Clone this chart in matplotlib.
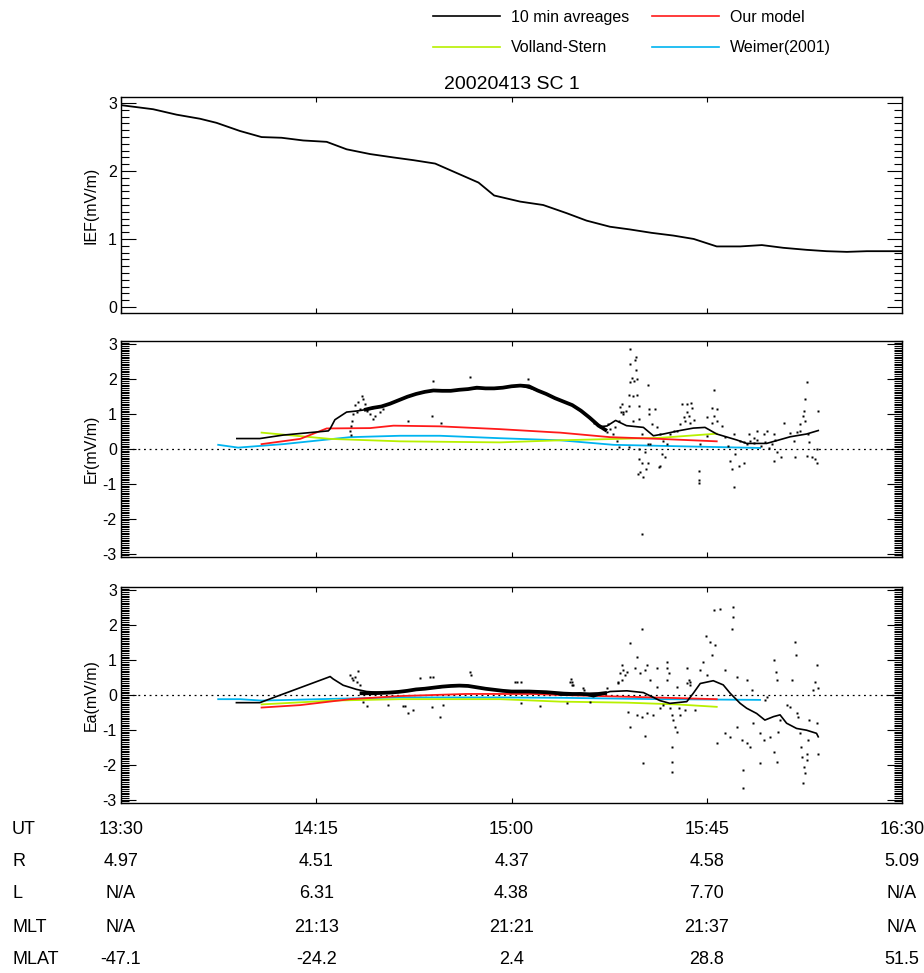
"""Electric field comparison plot for 20020413 SC 1 (IEF, Er, Ea panels)."""

import matplotlib
matplotlib.use("Agg")
import matplotlib.pyplot as plt
from matplotlib.lines import Line2D
from matplotlib.ticker import MultipleLocator, NullFormatter
from matplotlib.transforms import blended_transform_factory
import numpy as np

plt.rcParams["font.family"] = ["Liberation Sans", "DejaVu Sans"]
plt.rcParams["axes.unicode_minus"] = False

# ---- data (time in minutes after 13:30 UT) ----
ief_t = [0, 7.4, 12.8, 18.2, 22, 27.4, 32.4, 37, 42, 47.4, 52, 57.4, 62.8, 67.4,
         72.4, 77.4, 82.4, 86, 92, 97.3, 102.7, 107.3, 112.7, 117.3, 122.3, 127.3,
         132, 137.3, 142.7, 147.7, 152.6, 158, 162.6, 167.3, 171.9, 180]
ief_v = [2.97, 2.91, 2.83, 2.77, 2.71, 2.59, 2.50, 2.49, 2.45, 2.43, 2.32, 2.25, 2.20,
         2.16, 2.11, 1.97, 1.83, 1.64, 1.55, 1.50, 1.38, 1.27, 1.18, 1.14, 1.09, 1.05,
         1.00, 0.89, 0.89, 0.91, 0.87, 0.84, 0.82, 0.81, 0.82, 0.82]

# Er: 10 min averages
er_avg_t = [26.7, 32, 37.4, 47.8, 48.2, 49.3, 52, 54.3, 58, 61, 64, 68, 72, 76, 80, 84,
            88, 92, 96, 100, 104, 108, 110, 112, 114, 116.5, 120.4, 122.7, 125, 128.8,
            131.9, 134.6, 137.3, 141.9, 144.2, 148.8, 151.1, 154.2, 158, 160.7]
er_avg_v = [0.30, 0.30, 0.40, 0.52, 0.58, 0.84, 1.06, 1.09, 1.16, 1.26, 1.40, 1.58, 1.68,
            1.67, 1.72, 1.75, 1.76, 1.82, 1.68, 1.46, 1.26, 0.90, 0.64, 0.66, 0.82, 0.67,
            0.62, 0.38, 0.43, 0.53, 0.60, 0.62, 0.43, 0.26, 0.16, 0.16, 0.24, 0.35, 0.43, 0.53]
# Er: dense 1-s data band
er_band_t = [56, 58, 60, 62, 64, 66, 68, 70, 72, 74, 76, 78, 80, 82, 84, 86, 88, 90, 92,
             94, 96, 98, 100, 102, 104, 106, 108, 110, 112]
er_band_v = [1.12, 1.18, 1.22, 1.30, 1.40, 1.50, 1.58, 1.64, 1.68, 1.67, 1.67, 1.70, 1.72,
             1.76, 1.74, 1.74, 1.76, 1.80, 1.82, 1.80, 1.68, 1.58, 1.46, 1.36, 1.26, 1.10,
             0.90, 0.68, 0.52]
# Er: scattered 1-s points
er_dots = np.array([
    (52.8, 0.53), (53.2, 0.81), (53.5, 1.01), (53.9, 1.25), (54.7, 1.34), (55.5, 1.53),
    (55.8, 1.44), (56.2, 1.29), (55.1, 1.15), (54.3, 1.05), (56.6, 1.10), (57.4, 1.01),
    (58.1, 0.86), (58.5, 0.96), (59.7, 1.05), (60.4, 1.15), (53.1, 0.67), (66.2, 0.81),
    (71.6, 0.96), (73.7, 0.74), (72.0, 1.96), (80.4, 2.06), (93.9, 2.01), (52.9, 0.40),
    (117.4, 2.87), (118.7, 2.65), (118.5, 2.55), (117.4, 2.44), (118.7, 2.27), (117.7, 2.05),
    (118.3, 1.96), (117.4, 1.91), (118.9, 2.01), (117.0, 1.56), (118.0, 1.53), (119.0, 1.55),
    (115.4, 1.29), (117.0, 1.24), (115.2, 1.05), (115.8, 1.00), (116.4, 1.10), (119.3, 1.24),
    (121.4, 1.84), (114.7, 0.81), (118.1, 0.79), (119.3, 0.86), (121.6, 1.15), (121.6, 1.00),
    (123.1, 1.15), (120.0, 0.43), (119.3, 0.00), (119.5, -0.29), (120.0, -0.39), (119.7, -0.67),
    (119.1, -0.72), (120.4, -0.80), (121.0, -0.58), (121.4, -0.39), (120.8, -0.10), (121.4, 0.14),
    (122.4, 0.72), (123.5, 0.62), (124.3, 0.43), (125.0, 0.24), (124.7, -0.14), (125.4, -0.24),
    (124.3, -0.48), (123.9, -0.53), (125.8, 0.14), (120.0, -2.44), (122.0, 0.14), (129.3, 1.29),
    (130.4, 1.29), (131.4, 1.31), (131.6, 1.17), (130.4, 1.05), (130.8, 0.96), (129.7, 0.93),
    (130.0, 0.81), (131.2, 0.76), (132.0, 0.83), (128.9, 0.72), (128.1, 0.52), (126.6, 0.43),
    (127.4, 0.52), (133.1, -0.63), (133.1, -0.89), (133.1, -0.98), (135.0, 0.91), (136.2, 1.18),
    (136.7, 1.69), (137.4, 1.15), (136.6, 0.95), (136.2, 0.76), (137.4, 0.79), (138.5, 0.67),
    (135.0, 0.38), (133.5, 0.14), (139.3, 0.34), (140.0, 0.10), (141.2, 0.43), (141.6, -0.14),
    (140.4, -0.34), (140.8, -0.58), (142.4, -0.48), (143.5, -0.39), (141.2, -1.08), (144.7, 0.43),
    (145.8, 0.33), (146.6, 0.52), (147.4, 0.09), (148.1, 0.43), (148.9, 0.52), (149.3, 0.04),
    (150.4, 0.43), (151.2, -0.10), (152.0, -0.24), (150.4, -0.34), (152.7, 0.76), (154.3, 0.47),
    (155.0, 0.24), (155.4, -0.24), (156.6, 0.71), (157.2, 0.95), (157.4, 1.10), (157.7, 1.43),
    (158.0, 1.91), (158.3, 0.43), (158.5, 0.19), (158.1, -0.20), (159.3, -0.24), (160.0, -0.29),
    (160.4, -0.39), (160.4, 0.00), (160.7, 1.08), (157.7, 0.81), (156.6, 0.52), (155.8, 0.48),
    (142.7, 0.24), (143.5, 0.19), (144.3, 0.14), (145.0, 0.22), (145.8, 0.16), (146.6, 0.25),
    (148.5, 0.19), (150.0, 0.14), (150.8, 0.25), (108.9, 0.76), (110.4, 0.62), (112.0, 0.48),
    (112.7, 0.57), (113.5, 0.43), (114.3, 0.24), (114.7, 0.05), (117.0, 0.05), (113.9, 0.64),
    (112.3, 0.72), (115.0, 1.20), (115.8, 1.05),
])

# Ea: 10 min averages
ea_avg_t = [26.6, 32, 47.8, 48.2, 48.9, 51.2, 54.3, 56.6, 60, 64, 68, 72, 76, 80, 84, 88,
            92, 96, 100, 101.2, 103.5, 105.8, 108.9, 112.7, 116.6, 120.4, 124.2, 126.5,
            130.4, 131.9, 133.5, 136.5, 138.8, 140.4, 142.7, 144.2, 146.5, 148.4, 150.4,
            151.9, 153.4, 155.7, 158, 160.3, 160.7]
ea_avg_v = [-0.22, -0.22, 0.51, 0.53, 0.46, 0.28, 0.16, 0.10, 0.07, 0.09, 0.15, 0.20, 0.25,
            0.26, 0.18, 0.12, 0.10, 0.09, 0.05, 0.00, 0.00, 0.05, -0.05, 0.10, 0.12, 0.07,
            -0.16, -0.24, -0.19, 0.05, 0.33, 0.41, 0.29, 0.05, -0.24, -0.38, -0.53, -0.72,
            -0.62, -0.57, -0.81, -0.96, -1.01, -1.10, -1.20]
ea_band_t = [55, 58, 60, 62, 64, 66, 68, 70, 72, 74, 76, 78, 80, 82, 84, 86, 88, 90, 92,
             94, 96, 98, 100, 102, 104, 106, 108, 110, 112]
ea_band_v = [0.05, 0.05, 0.06, 0.07, 0.09, 0.12, 0.16, 0.18, 0.21, 0.24, 0.26, 0.27, 0.26,
             0.22, 0.18, 0.15, 0.12, 0.10, 0.10, 0.10, 0.09, 0.08, 0.06, 0.04, 0.03, 0.03,
             0.02, 0.03, 0.06]
ea_dots = np.array([
    (52.8, 0.57), (53.2, 0.48), (54.0, 0.53), (54.7, 0.69), (54.3, 0.38), (55.1, 0.29),
    (53.5, 0.43), (103.5, 0.38), (103.9, 0.29), (56.6, -0.31), (61.6, -0.29), (65.5, -0.31),
    (66.2, -0.53), (67.4, -0.43), (71.6, -0.34), (73.5, -0.62), (80.4, 0.67), (68.9, 0.48),
    (71.2, 0.53), (92.3, -0.24), (96.6, -0.31), (102.7, -0.24), (108.1, -0.19), (91.2, 0.38),
    (106.5, 0.19), (111.9, 0.19), (114.6, 0.36), (55.8, -0.19), (65.1, -0.32), (74.1, -0.29),
    (72.0, 0.53), (80.6, 0.58), (90.8, 0.38), (92.1, 0.38),
    (103.9, 0.38), (104.2, 0.30), (103.6, 0.45), (106.6, 0.14), (115.4, 0.86), (115.8, 0.72),
    (115.0, 0.62), (116.2, 0.58), (116.6, 0.67), (115.4, 0.43), (114.6, 0.34), (117.3, 1.49),
    (120.0, 1.89), (118.5, 0.77), (119.6, 0.62), (120.8, 0.72), (118.9, 1.10), (121.2, 0.86),
    (123.5, 0.77), (121.9, 0.43), (123.5, 0.24), (125.8, 0.96), (125.9, 0.77), (126.2, 0.62),
    (125.8, 0.43), (128.1, 0.24), (130.4, 0.77), (130.8, 0.43), (131.2, 0.29), (116.9, -0.48),
    (118.9, -0.57), (120.0, -0.62), (121.2, -0.53), (122.7, -0.57), (117.3, -0.91), (120.8, -1.18),
    (120.4, -1.96), (124.2, -0.38), (125.0, -0.29), (126.5, -0.38), (126.9, -0.57), (127.3, -0.72),
    (127.7, -0.91), (128.1, -1.05), (126.9, -1.49), (126.9, -1.92), (126.9, -2.20), (128.5, -0.38),
    (128.9, -0.57), (130.0, -0.43), (132.3, -0.43), (134.8, 1.68), (135.8, 1.53), (136.9, 1.44),
    (136.2, 1.15), (136.7, 2.44), (138.1, 2.46), (141.1, 2.54), (141.0, 2.23), (140.8, 1.89),
    (134.2, 0.96), (133.5, 0.72), (135.0, 0.58), (130.4, 0.34), (131.2, 0.38), (139.2, 0.72),
    (141.9, 0.53), (144.2, 0.43), (145.4, 0.15), (137.3, -1.39), (139.2, -1.10), (140.4, -1.20),
    (141.9, -0.91), (143.1, -1.29), (144.2, -1.39), (145.0, -1.49), (143.4, -2.15), (143.4, -2.68),
    (145.7, -0.81), (147.3, -1.10), (148.1, -1.29), (149.6, -1.20), (150.4, -1.63), (151.1, -1.92),
    (147.3, -1.96), (151.5, -1.05), (151.9, -0.72), (148.8, -0.05), (148.4, -0.14), (150.4, 1.01),
    (151.0, 0.67), (151.1, 0.43), (153.4, -0.29), (154.2, -0.34), (155.3, 1.53), (155.6, 1.15),
    (154.6, 0.43), (155.7, -0.53), (156.1, -0.62), (156.5, -1.10), (156.7, -1.49), (156.9, -1.77),
    (157.3, -2.06), (157.7, -2.25), (157.1, -2.54), (158.0, -1.87), (158.4, -1.29), (158.6, -0.72),
    (160.3, 0.86), (160.0, 0.38), (159.6, 0.14), (160.7, 0.19), (160.5, -0.81), (160.7, -1.68),
    (158.0, -1.68),
])

# Model curves
er_our_t = [32.4, 41.3, 47.4, 57.4, 62.8, 73.5, 87.3, 99.6, 101.2, 112.7, 124.2, 137.3]
er_our_v = [0.14, 0.29, 0.59, 0.60, 0.67, 0.65, 0.57, 0.48, 0.47, 0.34, 0.29, 0.22]
er_vs_t = [32.4, 48.2, 64.3, 87.3, 101.2, 124.2, 137.3]
er_vs_v = [0.47, 0.29, 0.22, 0.19, 0.25, 0.32, 0.44]
er_wm_t = [22.4, 27, 37.4, 52.8, 64.3, 73.5, 87.3, 101.2, 113.5, 131.9, 147.3]
er_wm_v = [0.12, 0.04, 0.14, 0.34, 0.38, 0.38, 0.31, 0.25, 0.12, 0.07, 0.03]

ea_our_t = [32.4, 41.3, 52.8, 64.3, 79.6, 95, 101.2, 116.6, 137.3]
ea_our_v = [-0.36, -0.29, -0.12, -0.03, 0.03, 0.03, 0.00, -0.05, -0.12]
ea_vs_t = [32.4, 48.9, 64.3, 87.3, 101.2, 116.6, 128.1, 137.3]
ea_vs_v = [-0.27, -0.16, -0.12, -0.12, -0.19, -0.22, -0.27, -0.34]
ea_wm_t = [22.4, 27.4, 32.4, 48.9, 64.3, 87.3, 101.2, 124.2, 147.3]
ea_wm_v = [-0.12, -0.12, -0.16, -0.11, -0.07, -0.07, -0.08, -0.12, -0.14]

# Orbit table under the plot
tick_minutes = [0, 45, 90, 135, 180]
table_names = ["UT", "R", "L", "MLT", "MLAT"]
ut_labels = ["13:30", "14:15", "15:00", "15:45", "16:30"]
r_labels = ["4.97", "4.51", "4.37", "4.58", "5.09"]
l_labels = ["N/A", "6.31", "4.38", "7.70", "N/A"]
mlt_labels = ["N/A", "21:13", "21:21", "21:37", "N/A"]
mlat_labels = ["-47.1", "-24.2", "2.4", "28.8", "51.5"]

C_OUR = "#ff1a1a"
C_VS = "#b8f000"
C_WM = "#00b4f0"
FS = 11.5


def _style_axis(ax, ymin, ymax, minor):
    """IDL-like axis: inward ticks on all four sides, no x labels."""
    ax.set_xlim(0, 180)
    ax.set_ylim(ymin, ymax)
    ax.xaxis.set_major_locator(MultipleLocator(45))
    ax.xaxis.set_major_formatter(NullFormatter())
    ax.yaxis.set_major_locator(MultipleLocator(1))
    ax.yaxis.set_minor_locator(MultipleLocator(minor))
    ax.tick_params(axis="x", which="major", direction="in", top=True, bottom=True,
                   length=3.5, width=0.8)
    ax.tick_params(axis="y", which="major", direction="in", left=True, right=True,
                   length=10.5, width=0.8, labelsize=FS, pad=3)
    ax.tick_params(axis="y", which="minor", direction="in", left=True, right=True,
                   length=5.5, width=0.8)
    for sp in ax.spines.values():
        sp.set_linewidth(1.0)


fig = plt.figure(figsize=(9.24, 9.73), dpi=100)
L, W, H = 121 / 924, 781 / 924, 216 / 973
ax1 = fig.add_axes([L, 1 - 313 / 973, W, H])
ax2 = fig.add_axes([L, 1 - 557 / 973, W, H])
ax3 = fig.add_axes([L, 1 - 803 / 973, W, H])

# ---- IEF ----
ax1.plot(ief_t, ief_v, color="black", lw=1.3)
_style_axis(ax1, -0.09, 3.09, 0.1)
ax1.set_ylabel("IEF(mV/m)", fontsize=FS)
ax1.set_title("20020413 SC 1", fontsize=14, pad=6)

# ---- Er / Ea ----
panels = [
    (ax2, "Er(mV/m)", er_band_t, er_band_v, er_avg_t, er_avg_v, er_dots,
     (er_our_t, er_our_v), (er_vs_t, er_vs_v), (er_wm_t, er_wm_v)),
    (ax3, "Ea(mV/m)", ea_band_t, ea_band_v, ea_avg_t, ea_avg_v, ea_dots,
     (ea_our_t, ea_our_v), (ea_vs_t, ea_vs_v), (ea_wm_t, ea_wm_v)),
]
for ax, lab, bt, bv, at, av, dots, our, vs, wm in panels:
    ax.axhline(0, color="black", lw=0.9, ls=(0, (1.5, 3)), zorder=1)
    ax.plot(*wm, color=C_WM, lw=1.3, zorder=2)
    ax.plot(*vs, color=C_VS, lw=1.3, zorder=2)
    ax.plot(*our, color=C_OUR, lw=1.3, zorder=3)
    ax.plot(bt, bv, color="black", lw=2.7, zorder=4, solid_capstyle="butt")
    ax.plot(dots[:, 0], dots[:, 1], ls="none", marker="s", ms=1.5, mec="none",
            mfc="black", zorder=4)
    ax.plot(at, av, color="black", lw=1.2, zorder=5)
    _style_axis(ax, -3.1, 3.1, 0.05)
    ax.set_ylabel(lab, fontsize=FS)

for ax in (ax1, ax2, ax3):
    ax.yaxis.set_label_coords(-0.029, 0.5)

# ---- legend ----
handles = [
    Line2D([0], [0], color="black", lw=1.2, label="10 min avreages"),
    Line2D([0], [0], color=C_VS, lw=1.2, label="Volland-Stern"),
    Line2D([0], [0], color=C_OUR, lw=1.2, label="Our model"),
    Line2D([0], [0], color=C_WM, lw=1.2, label="Weimer(2001)"),
]
fig.legend(handles=handles, ncol=2, loc="upper left", bbox_to_anchor=(433 / 924, 1 - 10 / 973),
           frameon=False, fontsize=FS, handlelength=4.2, handletextpad=0.7,
           columnspacing=1.4, labelspacing=0.95, borderpad=0, borderaxespad=0)

# ---- orbit table ----
trans = blended_transform_factory(ax3.transData, fig.transFigure)
rows = [ut_labels, r_labels, l_labels, mlt_labels, mlat_labels]
row_y = [830, 862, 894, 927, 960]
for name, vals, y in zip(table_names, rows, row_y):
    fy = 1 - y / 973
    fig.text(12 / 924, fy, name, ha="left", va="center", fontsize=13)
    for tm, txt in zip(tick_minutes, vals):
        fig.text(tm, fy, txt, ha="center", va="center", fontsize=13, transform=trans)

fig.savefig("out.png", dpi=100)
plt.close(fig)
